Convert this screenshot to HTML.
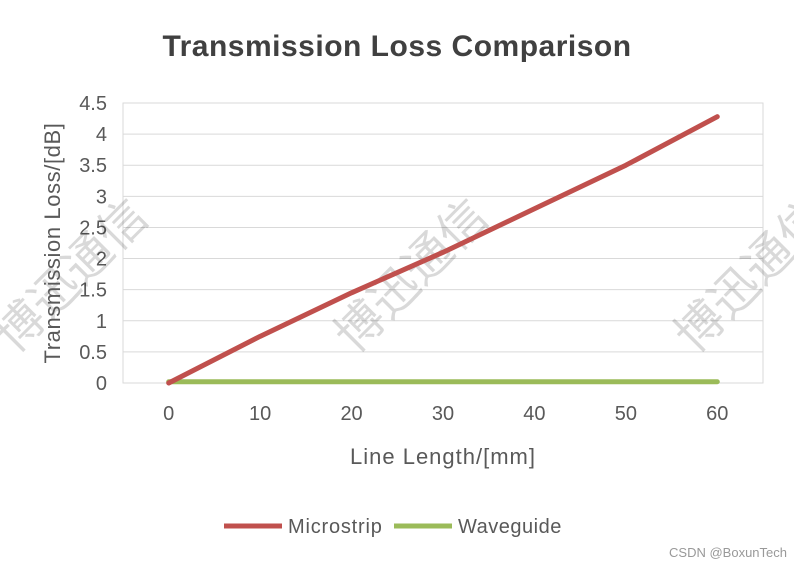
<!DOCTYPE html>
<html><head><meta charset="utf-8"><style>
body{margin:0;background:#fff;}
svg{display:block;font-family:"Liberation Sans","Noto Sans CJK SC",sans-serif;}
</style></head><body>
<svg id="chart" width="794" height="566" viewBox="0 0 794 566">
<rect width="794" height="566" fill="#fff"/>
<text x="397" y="56" text-anchor="middle" font-size="30" font-weight="bold" fill="#404040" letter-spacing="0.5">Transmission Loss Comparison</text>
<g id="grid"></g>
<rect x="123" y="103" width="640" height="280" fill="none" stroke="#d9d9d9"/>
<g id="yticks" font-size="20" fill="#595959" text-anchor="end"></g>
<g id="xticks" font-size="20" fill="#595959" text-anchor="middle"></g>
<g font-size="48" fill="#000" fill-opacity="0.15" font-family="'Noto Sans CJK SC',sans-serif">
<text transform="translate(15 355) rotate(-45)">博迅通信</text>
<text transform="translate(355 355) rotate(-45)">博迅通信</text>
<text transform="translate(695 355) rotate(-45)">博迅通信</text>
</g>
<g id="series"></g>
<text x="60" y="243" transform="rotate(-90 60 243)" text-anchor="middle" font-size="22" fill="#595959" letter-spacing="0.6">Transmission Loss/[dB]</text>
<text x="443" y="464" text-anchor="middle" font-size="22" fill="#595959" letter-spacing="1">Line Length/[mm]</text>
<g>
<g><line x1="224" y1="526" x2="282" y2="526" stroke="#c0504d" stroke-width="5"/><text x="288" y="533" font-size="20" fill="#595959" letter-spacing="0.8">Microstrip</text></g>
<g><line x1="394" y1="526" x2="452" y2="526" stroke="#9bbb59" stroke-width="5"/><text x="458" y="533" font-size="20" fill="#595959" letter-spacing="0.5">Waveguide</text></g>
</g>
<text x="787" y="557" text-anchor="end" font-size="13" fill="#999">CSDN @BoxunTech</text>
</svg>
<script>
const categories=[0,10,20,30,40,50,60];
const microstrip=[0,0.75,1.45,2.1,2.8,3.5,4.28];
const waveguide=[0.02,0.02,0.02,0.02,0.02,0.02,0.02];
const yTicks=[0,0.5,1,1.5,2,2.5,3,3.5,4,4.5];
const NS="http://www.w3.org/2000/svg";
const L=123,R=763,T=103,B=383,YMAX=4.5;
const bw=(R-L)/categories.length;
const xs=i=>L+bw*(i+0.5);
const ys=v=>B-(v/YMAX)*(B-T);
const grid=document.getElementById('grid'),yt=document.getElementById('yticks'),xt=document.getElementById('xticks'),se=document.getElementById('series');
yTicks.forEach(v=>{
 const l=document.createElementNS(NS,'line');
 l.setAttribute('x1',L);l.setAttribute('x2',R);l.setAttribute('y1',ys(v));l.setAttribute('y2',ys(v));l.setAttribute('stroke','#d9d9d9');
 
 
 grid.appendChild(l);
 const t=document.createElementNS(NS,'text');
 t.setAttribute('x',107);t.setAttribute('y',ys(v)+7);t.textContent=v;
 
 
 yt.appendChild(t);
});
categories.forEach((c,i)=>{
 const t=document.createElementNS(NS,'text');
 t.setAttribute('x',xs(i));t.setAttribute('y',420);t.textContent=c;
 
 
 xt.appendChild(t);
});
function line(vals,color,name){
 const p=document.createElementNS(NS,'polyline');
 p.setAttribute('points',vals.map((v,i)=>xs(i)+','+ys(v)).join(' '));
 p.setAttribute('fill','none');p.setAttribute('stroke',color);p.setAttribute('stroke-width',5);p.setAttribute('stroke-linecap','round');p.setAttribute('stroke-linejoin','round');
 
 
 se.appendChild(p);
}
line(waveguide,'#9bbb59','waveguide-line');
line(microstrip,'#c0504d','microstrip-line');
</script>
</body></html>
